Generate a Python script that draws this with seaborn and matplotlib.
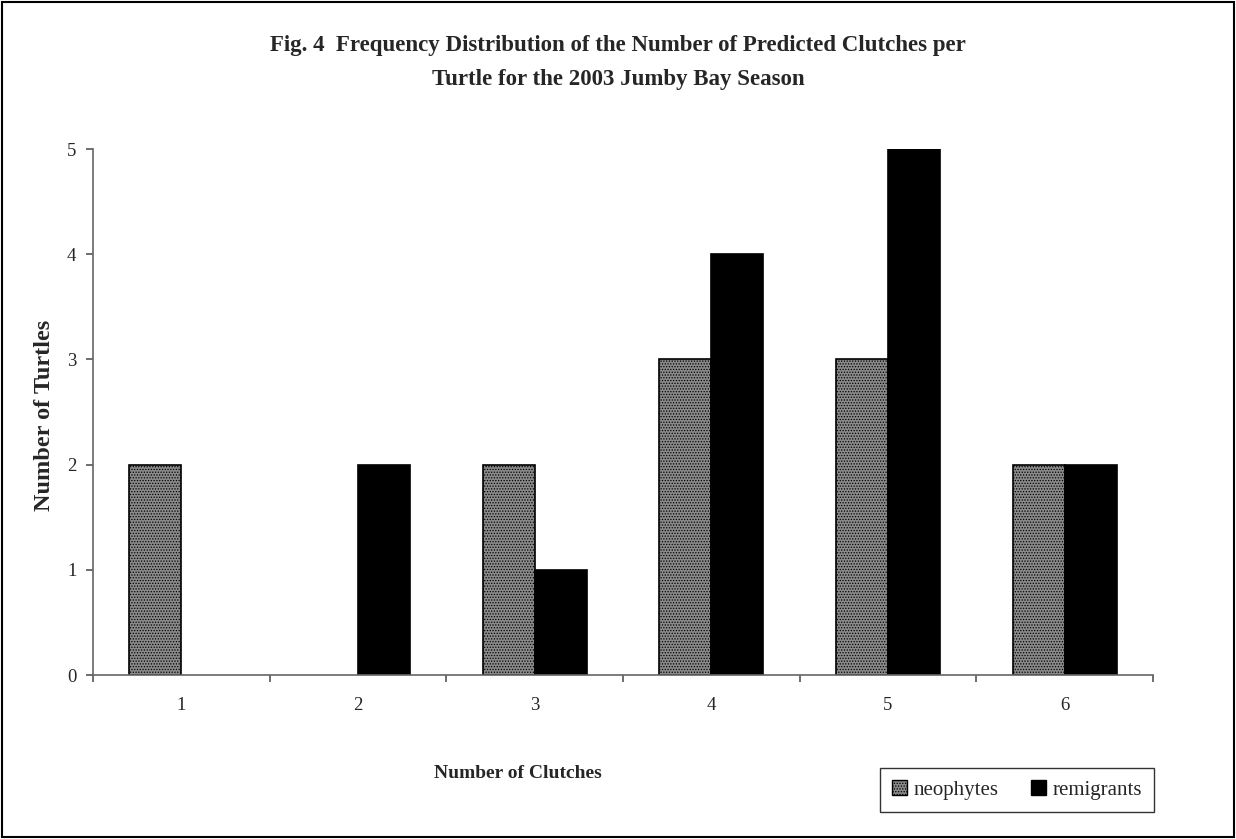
import matplotlib
matplotlib.use("Agg")
import matplotlib.pyplot as plt
import seaborn as sns
import pandas as pd
from matplotlib.patches import Rectangle
from matplotlib.ticker import FixedLocator

clutches = ["1", "2", "3", "4", "5", "6"]
neophytes = [2, 0, 2, 3, 3, 2]
remigrants = [0, 2, 1, 4, 5, 2]
groups = ["neophytes", "remigrants"]
y_ticks = [0, 1, 2, 3, 4, 5]

df = pd.DataFrame({
    "clutches": clutches * 2,
    "turtles": neophytes + remigrants,
    "group": [groups[0]] * len(clutches) + [groups[1]] * len(clutches),
})

sns.set_style("white")
plt.rcParams["font.family"] = ["Liberation Serif", "DejaVu Serif"]
plt.rcParams["hatch.color"] = "#d8d8d8"
plt.rcParams["hatch.linewidth"] = 0.6

fig = plt.figure(figsize=(12.36, 8.39), dpi=100)
ax = fig.add_axes([93 / 1236, 1 - 675 / 839, (1153 - 93) / 1236, (675 - 149) / 839])

sns.barplot(data=df, x="clutches", y="turtles", hue="group",
            palette={"neophytes": "#8a8a8a", "remigrants": "#000000"},
            width=0.59, gap=0, edgecolor="black", linewidth=1.2,
            saturation=1, legend=False, ax=ax)

# stippled fill for the neophyte bars; empty bars draw nothing
for i, container in enumerate(ax.containers):
    for bar in container:
        if i == 0:
            bar.set_hatch("......")
        if bar.get_height() == 0:
            bar.set_visible(False)

ax.set_xlim(-0.5, 5.5)
ax.set_ylim(0, 5)
ax.set_yticks(y_ticks)
ax.set_yticklabels([str(v) for v in y_ticks])
ax.xaxis.set_minor_locator(FixedLocator([i - 0.5 for i in range(len(clutches) + 1)]))
ax.tick_params(axis="x", which="major", bottom=True, length=0, pad=16, labelsize=13.5)
ax.tick_params(axis="x", which="minor", bottom=True, length=5, width=1.2,
               color="#555555", direction="out")
ax.tick_params(axis="y", left=True, length=5, width=1.2, color="#555555",
               direction="out", labelsize=13.5, pad=7)

for side in ["top", "right"]:
    ax.spines[side].set_visible(False)
for side in ["left", "bottom"]:
    ax.spines[side].set_color("#666666")
    ax.spines[side].set_linewidth(1.2)

ax.set_xlabel("")
ax.set_ylabel("")
fig.text(45 / 1236, 1 - 415 / 839, "Number of Turtles", fontsize=17.5, fontweight="bold",
         rotation=90, ha="center", va="center")
fig.text(518 / 1236, 1 - 774 / 839, "Number of Clutches", fontsize=14, fontweight="bold",
         ha="center", va="center")

fig.text(0.5, 1 - 45 / 839, "Fig. 4  Frequency Distribution of the Number of Predicted Clutches per",
         fontsize=16.5, fontweight="bold", ha="center", va="center")
fig.text(0.5, 1 - 80 / 839, "Turtle for the 2003 Jumby Bay Season",
         fontsize=16.5, fontweight="bold", ha="center", va="center")

handles = [Rectangle((0, 0), 1, 1, facecolor="#8a8a8a", edgecolor="black", hatch="......"),
           Rectangle((0, 0), 1, 1, facecolor="black", edgecolor="black")]
leg = fig.legend(handles, groups, loc="center", bbox_to_anchor=(1017 / 1236, 1 - 790 / 839),
                 ncol=2, frameon=True, fancybox=False, fontsize=15, handlelength=0.7,
                 handleheight=0.7, handletextpad=0.3, columnspacing=1.6, borderpad=0.6)
leg.get_frame().set_edgecolor("black")
leg.get_frame().set_linewidth(1.0)

fig.add_artist(Rectangle((0.002, 0.002), 0.996, 0.996, transform=fig.transFigure,
                         fill=False, edgecolor="black", linewidth=1.5))

fig.savefig("out.png", dpi=100)
